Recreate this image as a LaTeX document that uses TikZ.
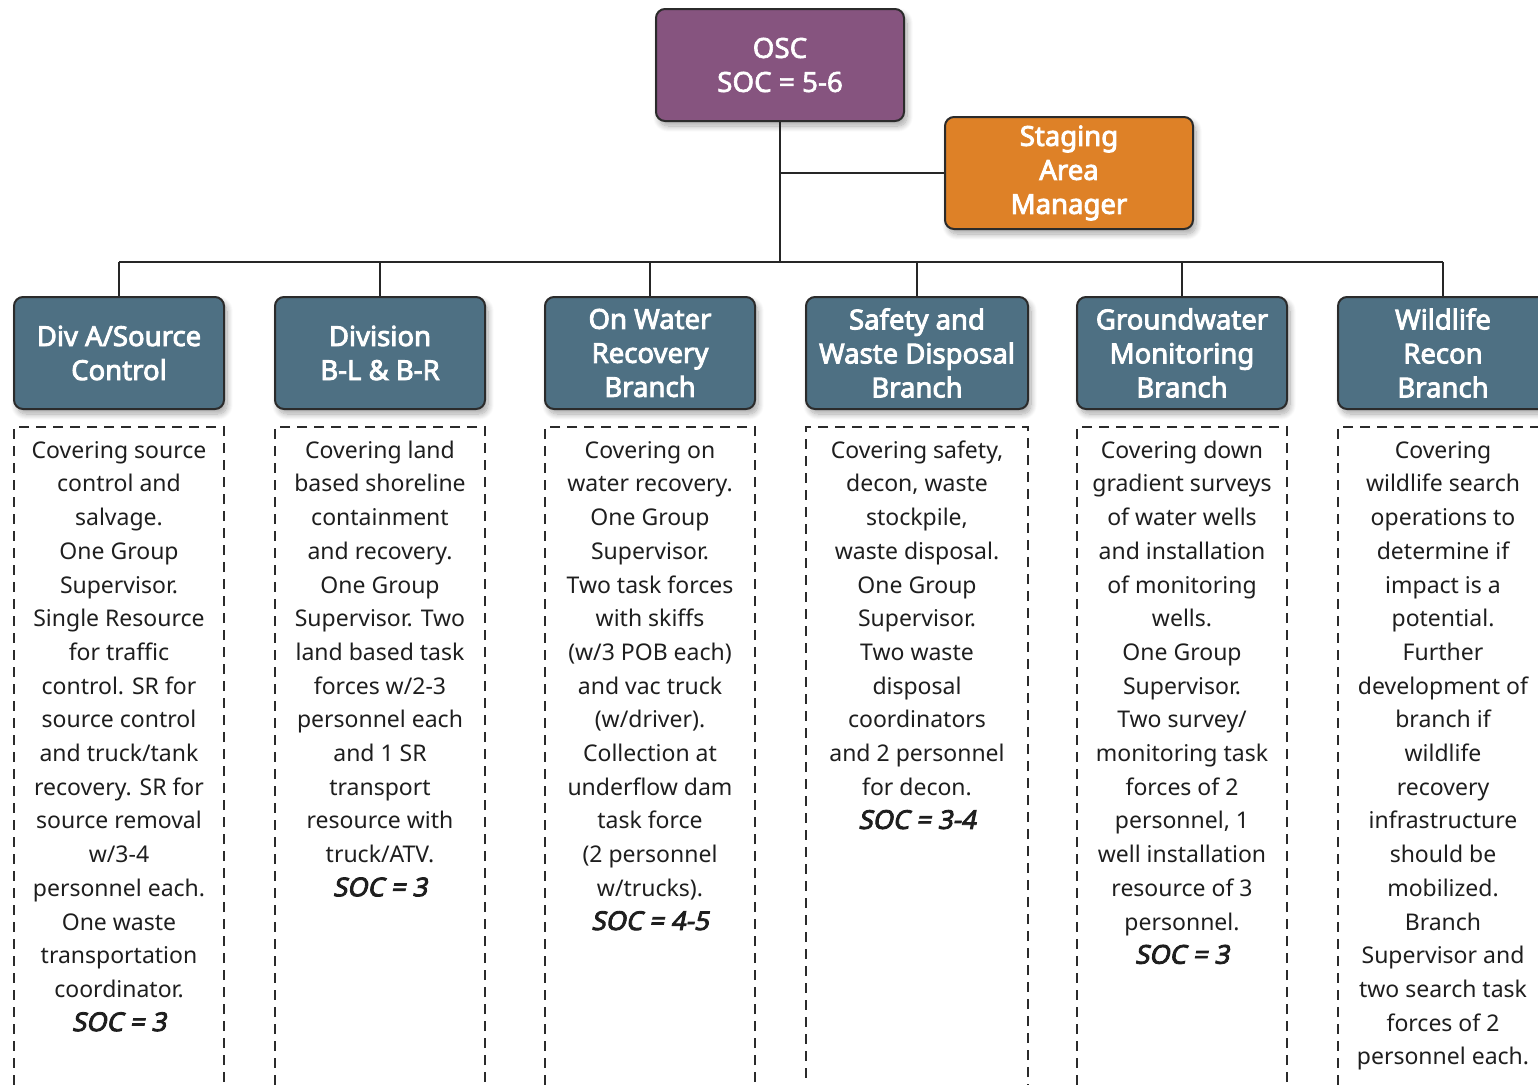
\documentclass[tikz,border=0pt]{standalone}
\usepackage{fontspec}
\setmainfont{Noto Sans}
\newfontfamily\hdrfont{Noto Sans}[FakeBold=3.2]
\newfontfamily\oscfont{Noto Sans}[FakeBold=2.2]
\newfontfamily\socfont{Noto Sans}[FakeBold=3.2, FakeSlant=0.2]
\usetikzlibrary{shadows.blur}
\definecolor{oscpurple}{HTML}{86547F}
\definecolor{stgorange}{HTML}{DE8127}
\definecolor{hdrblue}{HTML}{4E7083}
\definecolor{edgegray}{HTML}{2B2B2B}
\definecolor{txtgray}{HTML}{1E1E1E}
\tikzset{
  topbox/.style={draw=edgegray, line width=2pt, rounded corners=9pt, text=white,
    minimum width=248, minimum height=112, align=center,
    blur shadow={shadow xshift=3pt, shadow yshift=-5pt, shadow blur steps=12, shadow opacity=35, shadow blur radius=6pt}},
  hdrbox/.style={draw=edgegray, line width=2pt, rounded corners=9pt, fill=hdrblue, text=white,
    minimum width=210, minimum height=112, align=center,
    font=\hdrfont\fontsize{27.5}{34}\selectfont,
    blur shadow={shadow xshift=3pt, shadow yshift=-5pt, shadow blur steps=12, shadow opacity=35, shadow blur radius=6pt}},
  dashbox/.style={draw=edgegray, line width=2pt, dash pattern=on 10pt off 7pt,
    minimum width=210, minimum height=700, anchor=north},
  bodytext/.style={anchor=north, align=center, inner sep=0pt, text=txtgray,
    font=\fontsize{23}{33.7}\selectfont},
  conn/.style={draw=black!85, line width=2.3pt}
}
\newcommand{\soc}[1]{{\socfont\fontsize{26}{33.7}\selectfont SOC = #1}}
\newcommand{\fstrut}{\rule{0pt}{23pt}}
\begin{document}
\begin{tikzpicture}[x=1pt,y=-1pt]
\useasboundingbox (0,0) rectangle (1538,1084);
\clip (0,0) rectangle (1538,1084);

% top boxes
\node[topbox, fill=oscpurple, font=\oscfont\fontsize{27.8}{34}\selectfont] (osc) at (780,65) {OSC\\SOC = 5-6};
\node[topbox, fill=stgorange, font=\hdrfont\fontsize{27.5}{34}\selectfont] (stg) at (1069,173) {Staging\\Area\\Manager};

% headers
\node[hdrbox] (h1) at (119,353) {Div A/Source\\Control};
\node[hdrbox] (h2) at (380,353) {Division\\B-L \& B-R};
\node[hdrbox] (h3) at (650,353) {On Water\\Recovery\\Branch};
\node[hdrbox, minimum width=222] (h4) at (917,353) {Safety and\\Waste Disposal\\Branch};
\node[hdrbox] (h5) at (1182,353) {Groundwater\\Monitoring\\Branch};
\node[hdrbox] (h6) at (1443,353) {Wildlife\\Recon\\Branch};

% connectors
\coordinate (bus) at (780,262);
\draw[conn] (osc.south) -- (bus);
\draw[conn] (osc.south |- stg.west) -- (stg.west);
\draw[conn] (h1.north |- bus) -- (h6.north |- bus);
\foreach \h in {h1,h2,h3,h4,h5,h6} {
  \draw[conn] (\h.north |- bus) -- (\h.north);
}

% dashed boxes
\node[dashbox] (d1) at (119,426) {};
\node[dashbox] (d2) at (380,426) {};
\node[dashbox] (d3) at (650,426) {};
\node[dashbox, minimum width=222] (d4) at (917,426) {};
\node[dashbox] (d5) at (1182,426) {};
\node[dashbox] (d6) at (1443,426) {};

% body texts
\node[bodytext] (t1) at ([yshift=-9pt]d1.north) {\fstrut Covering source\\control and\\salvage.\\One Group\\Supervisor.\\Single Resource\\for traffic\\control. SR for\\source control\\and truck/tank\\recovery. SR for\\source removal\\w/3-4\\personnel each.\\One waste\\transportation\\coordinator.\\\soc{3}};
\node[bodytext] (t2) at ([yshift=-9pt]d2.north) {\fstrut Covering land\\based shoreline\\containment\\and recovery.\\One Group\\Supervisor. Two\\land based task\\forces w/2-3\\personnel each\\and 1 SR\\transport\\resource with\\truck/ATV.\\\soc{3}};
\node[bodytext] (t3) at ([yshift=-9pt]d3.north) {\fstrut Covering on\\water recovery.\\One Group\\Supervisor.\\Two task forces\\with skiffs\\(w/3 POB each)\\and vac truck\\(w/driver).\\Collection at\\underflow dam\\task force\\(2 personnel\\w/trucks).\\\soc{4-5}};
\node[bodytext] (t4) at ([yshift=-9pt]d4.north) {\fstrut Covering safety,\\decon, waste\\stockpile,\\waste disposal.\\One Group\\Supervisor.\\Two waste\\disposal\\coordinators\\and 2 personnel\\for decon.\\\soc{3-4}};
\node[bodytext] (t5) at ([yshift=-9pt]d5.north) {\fstrut Covering down\\gradient surveys\\of water wells\\and installation\\of monitoring\\wells.\\One Group\\Supervisor.\\Two survey/\\monitoring task\\forces of 2\\personnel, 1\\well installation\\resource of 3\\personnel.\\\soc{3}};
\node[bodytext] (t6) at ([yshift=-9pt]d6.north) {\fstrut Covering\\wildlife search\\operations to\\determine if\\impact is a\\potential.\\Further\\development of\\branch if\\wildlife\\recovery\\infrastructure\\should be\\mobilized.\\Branch\\Supervisor and\\two search task\\forces of 2\\personnel each.};
\end{tikzpicture}
\end{document}
